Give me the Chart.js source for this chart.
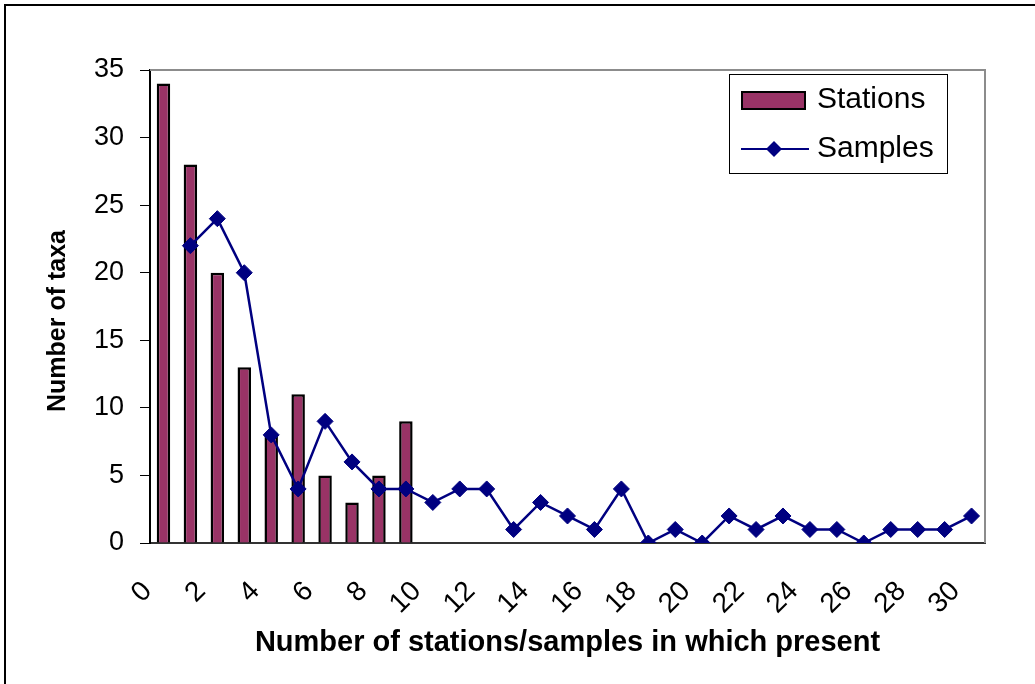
<!DOCTYPE html>
<html>
<head>
<meta charset="utf-8">
<script src="https://cdn.jsdelivr.net/npm/chart.js"></script>
<style>
  html, body { margin: 0; padding: 0; background: #fff; }
  #wrap { width: 1035px; height: 684px; }
</style>
</head>
<body>
<div id="wrap"><canvas id="chart" width="1035" height="684"></canvas></div>
<script>
// --------- data ----------
const categories = ["0","1","2","3","4","5","6","7","8","9","10","11","12","13","14","15",
                    "16","17","18","19","20","21","22","23","24","25","26","27","28","29","30"];
const tickLabels = ["0","2","4","6","8","10","12","14","16","18","20","22","24","26","28","30"];
const yTicks     = [0, 5, 10, 15, 20, 25, 30, 35];

const stations = [34, 28, 20, 13, 8, 11, 5, 3, 5, 9,
                  null, null, null, null, null, null, null, null, null, null, null,
                  null, null, null, null, null, null, null, null, null, null];
const samples  = [null, 22, 24, 20, 8, 4, 9, 6, 4, 4,
                  3, 4, 4, 1, 3, 2, 1, 4, 0, 1, 0,
                  2, 1, 2, 1, 1, 0, 1, 1, 1, 2];

const yTitle = "Number of taxa";
const xTitle = "Number of stations/samples in which present";

const FONT = "'Liberation Sans', Arial, sans-serif";
const BAR_COLOR = "#993366";
const LINE_COLOR = "#000080";

// frame + plot border + legend + y title
const decor = {
  id: "decor",
  beforeDraw(c) {
    const ctx = c.ctx;
    ctx.save();
    ctx.fillStyle = "#fff";
    ctx.fillRect(0, 0, c.width, c.height);
    ctx.strokeStyle = "#000";
    ctx.lineWidth = 2;
    ctx.strokeRect(5, 5, c.width + 50, c.height + 50);
    ctx.restore();
  },
  beforeDatasetsDraw(c) {
    const { ctx, chartArea: a } = c;
    ctx.save();
    ctx.strokeStyle = "#8c8c8c";
    ctx.lineWidth = 2;
    ctx.beginPath();
    ctx.moveTo(a.left, a.top);
    ctx.lineTo(a.right, a.top);
    ctx.lineTo(a.right, a.bottom);
    ctx.stroke();
    ctx.restore();
  },
  afterDraw(c) {
    const ctx = c.ctx;
    const bar = c.data.datasets[1], line = c.data.datasets[0];
    ctx.save();

    // y title (sits a bit below the middle of the axis, like the original)
    ctx.save();
    ctx.translate(58, 321);
    ctx.rotate(-Math.PI / 2);
    ctx.fillStyle = "#000";
    ctx.font = "bold 25px " + FONT;
    ctx.textAlign = "center";
    ctx.textBaseline = "middle";
    ctx.fillText(yTitle, 0, 0);
    ctx.restore();

    // legend
    ctx.fillStyle = "#fff";
    ctx.fillRect(729, 74, 218, 99);
    ctx.strokeStyle = "#000";
    ctx.lineWidth = 1;
    ctx.strokeRect(729.5, 74.5, 218, 99);

    ctx.fillStyle = bar.backgroundColor;
    ctx.fillRect(741, 91, 65, 19);
    ctx.lineWidth = 2;
    ctx.strokeRect(742, 92, 63, 17);

    ctx.strokeStyle = line.borderColor;
    ctx.lineWidth = 2;
    ctx.beginPath();
    ctx.moveTo(741, 149);
    ctx.lineTo(809, 149);
    ctx.stroke();
    ctx.fillStyle = line.borderColor;
    ctx.beginPath();
    ctx.moveTo(774, 141); ctx.lineTo(782, 149); ctx.lineTo(774, 157); ctx.lineTo(766, 149);
    ctx.closePath();
    ctx.fill();

    ctx.fillStyle = "#000";
    ctx.font = "30px " + FONT;
    ctx.textBaseline = "middle";
    ctx.fillText(bar.label, 817, 100);
    ctx.fillText(line.label, 817, 149);
    ctx.restore();
  }
};

new Chart(document.getElementById("chart"), {
  data: {
    labels: categories,
    datasets: [
      {
        type: "line",
        label: "Samples",
        data: samples,
        borderColor: LINE_COLOR,
        backgroundColor: LINE_COLOR,
        borderWidth: 2.5,
        pointStyle: "rectRot",
        pointRadius: 8,
        pointBorderWidth: 1,
        pointBackgroundColor: LINE_COLOR,
        tension: 0,
        order: 1
      },
      {
        type: "bar",
        label: "Stations",
        data: stations,
        backgroundColor: BAR_COLOR,
        borderColor: "#000",
        borderWidth: 2.5,
        barPercentage: 0.5,
        categoryPercentage: 1.0,
        order: 2
      }
    ]
  },
  options: {
    responsive: false,
    animation: false,
    devicePixelRatio: 1,
    layout: { padding: { top: 70, right: 50, left: 30, bottom: 0 } },
    plugins: { legend: { display: false }, tooltip: { enabled: false } },
    scales: {
      x: {
        type: "category",
        offset: true,
        grid: { display: false, drawTicks: false },
        border: { display: true, color: "#333", width: 2 },
        ticks: {
          color: "#000",
          font: { family: FONT, size: 28 },
          autoSkip: false,
          minRotation: 45,
          maxRotation: 45,
          labelOffset: -16,
          padding: 32,
          callback(v, i) {
            const l = categories[i];
            return tickLabels.includes(l) ? l : "";
          }
        },
        title: {
          display: true,
          text: xTitle,
          color: "#000",
          font: { family: FONT, size: 29, weight: "bold" },
          padding: { top: 0, bottom: 24 }
        },
        afterFit(s) { s.height = 141; }
      },
      y: {
        min: 0,
        max: 35,
        afterBuildTicks(s) { s.ticks = yTicks.map(v => ({ value: v })); },
        grid: { drawOnChartArea: false, drawTicks: true, tickLength: 10, color: "#000" },
        border: { display: true, color: "#000", width: 2 },
        ticks: {
          color: "#000",
          font: { family: FONT, size: 27 },
          padding: 16
        },
        afterFit(s) { s.width = 120; }
      }
    }
  },
  plugins: [decor]
});
</script>
</body>
</html>
